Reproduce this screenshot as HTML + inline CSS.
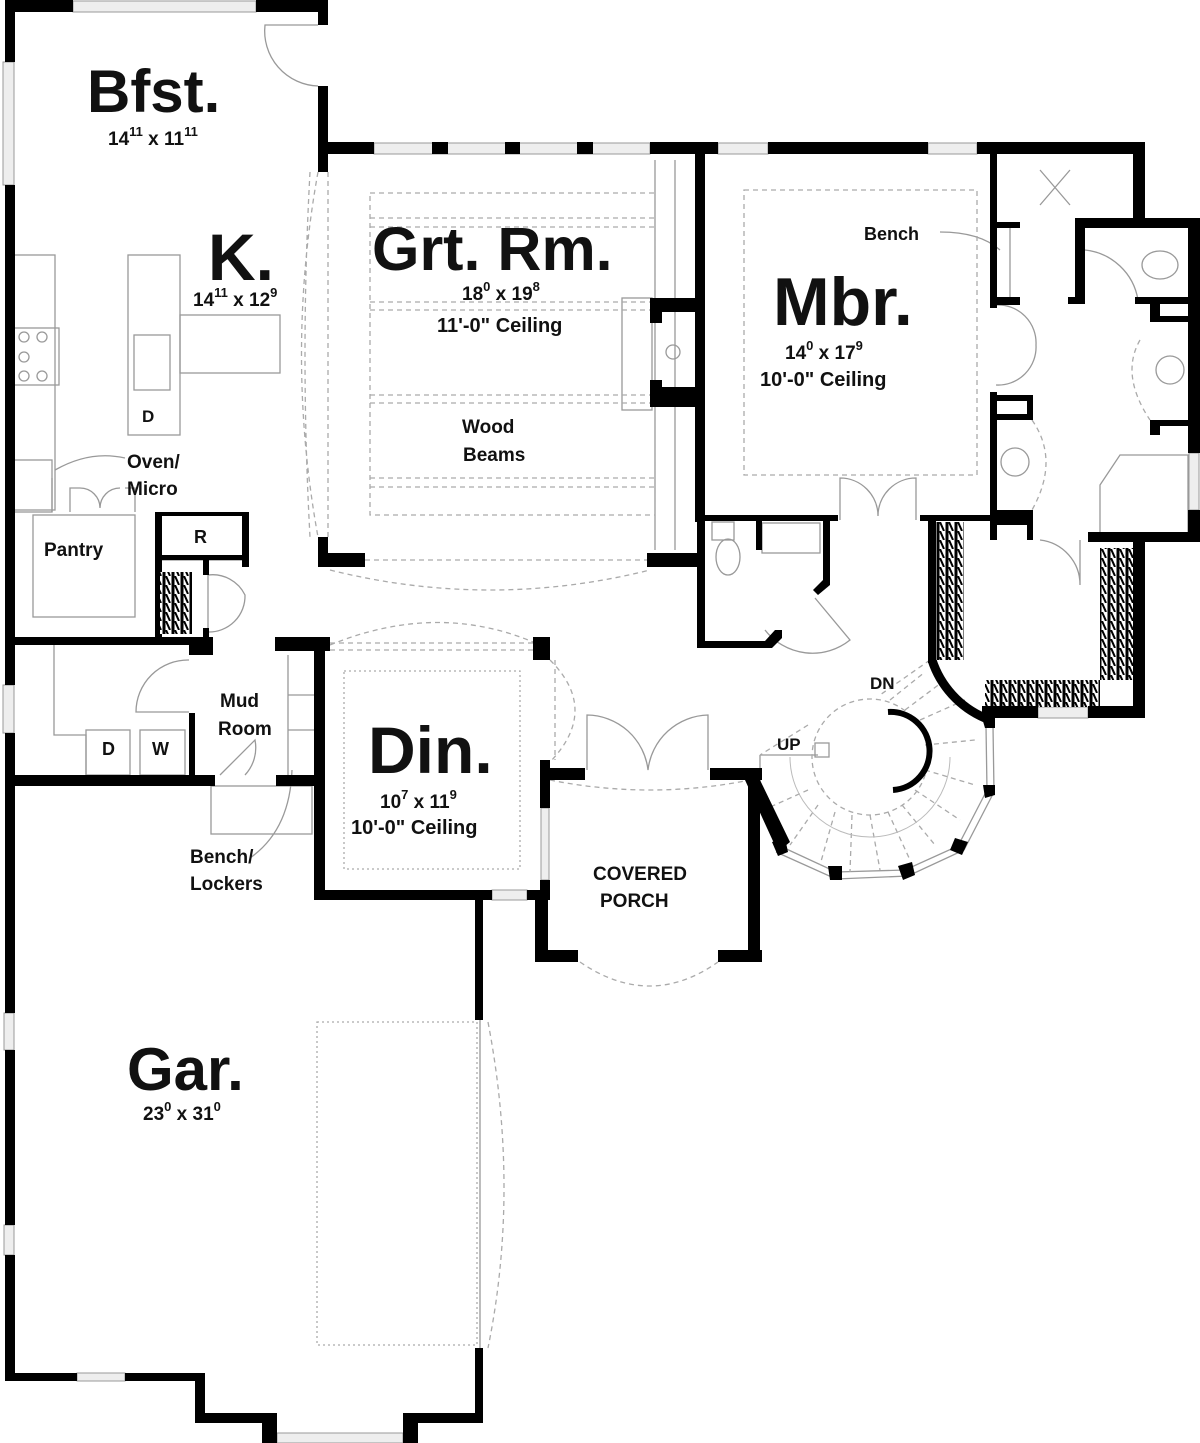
<!DOCTYPE html>
<html><head><meta charset="utf-8"><style>
html,body{margin:0;padding:0;background:#fff}
svg{display:block}
text{font-family:"Liberation Sans",Arial,sans-serif;font-weight:bold;fill:#111}
</style></head><body>
<svg width="1200" height="1443" viewBox="0 0 1200 1443" xmlns="http://www.w3.org/2000/svg">
<defs>
<pattern id="hat" width="9" height="9" patternUnits="userSpaceOnUse">
<rect width="9" height="9" fill="#fff"/>
<line x1="2" y1="0" x2="2" y2="9" stroke="#000" stroke-width="3"/>
<line x1="4" y1="0" x2="8" y2="9" stroke="#000" stroke-width="2"/>
</pattern>
</defs>

<g fill="none" stroke="#999" stroke-width="1.3">
<rect x="14" y="255" width="41" height="255"/>
<rect x="128" y="255" width="52" height="180"/>
<rect x="180" y="315" width="100" height="58"/>
<rect x="134" y="335" width="36" height="55"/>
<rect x="14" y="460" width="38" height="52"/>
<rect x="33" y="515" width="102" height="102"/>
<rect x="161" y="515" width="82" height="45"/>
<path d="M52 512 V478 M70 512 V488 H 80 M135 512 V488 H125"/>
<path d="M80 488 A20 20 0 0 1 100 508 A20 20 0 0 1 120 488"/>
<path d="M55 470 Q90 450 125 458"/>
<rect x="14" y="328" width="45" height="57"/>
<circle cx="24" cy="337" r="5"/><circle cx="24" cy="357" r="5"/><circle cx="24" cy="376" r="5"/>
<circle cx="42" cy="337" r="5"/><circle cx="42" cy="376" r="5"/>
<!-- laundry -->
<path d="M54 645 V735 H86 V775"/>
<rect x="86" y="730" width="44" height="45"/><rect x="140" y="730" width="45" height="45"/>
<path d="M189 660 A52 52 0 0 0 136 712 H189"/>
<!-- mud lockers -->
<path d="M288 655 V775 M318 655 V775 M288 695 H318 M288 730 H318"/>
<rect x="211" y="786" width="101" height="48"/>
<path d="M220 775 L255 740 A40 40 0 0 1 245 775"/>
<path d="M250 858 Q290 830 292 770"/>
<path d="M208 568 V632 A36 36 0 0 0 245 595 A36 36 0 0 0 208 575"/>
<path d="M318 25 H265 A55 55 0 0 0 318 86"/>
<rect x="622" y="298" width="30" height="112"/>
<path d="M655 160 V550 M675 160 V550"/>
<circle cx="673" cy="352" r="7"/>
<rect x="712" y="522" width="22" height="18"/><ellipse cx="728" cy="557" rx="12" ry="18"/>
<rect x="762" y="523" width="58" height="30"/>
<path d="M815 598 L850 640 A60 60 0 0 1 765 630"/>
<path d="M840 520 V478 A38 38 0 0 1 878 516 A38 38 0 0 1 916 478 V520"/>
<path d="M996 305 A38 38 0 0 1 1036 345 A38 38 0 0 1 996 385"/>
<path d="M1085 250 A60 60 0 0 1 1138 300"/>
<path d="M1080 540 V585 A45 45 0 0 0 1040 540"/>
<ellipse cx="1160" cy="265" rx="18" ry="14"/>
<circle cx="1170" cy="370" r="14"/><circle cx="1015" cy="462" r="14"/>
<path d="M1100 485 L1120 455 H1188 V535 H1100 Z"/>
<path d="M1040 170 L1070 205 M1070 170 L1040 205 M1010 228 V297"/>
<path d="M940 232 Q980 232 1000 250"/>
<path d="M587 770 V715 A62 62 0 0 1 648 770 A62 62 0 0 1 708 715 V770"/>
<path d="M760 755 H818 M760 755 V790"/>
<rect x="815" y="743" width="14" height="14"/>
<path d="M480 1020 V1348"/>
<!-- stair outer ring windows -->
<path d="M986 726 L987 790 L958 846 L905 870 L836 872 L780 846"/>
<path d="M993 726 L994 792 L964 850 L908 876 L836 879 L776 852"/>
</g>
<g fill="none" stroke="#aaa" stroke-width="1.3" stroke-dasharray="5 4">
<rect x="370" y="193" width="285" height="322"/>
<path d="M370 218H655M370 227H655M370 302H655M370 310H655M370 395H655M370 403H655M370 478H655M370 487H655"/>
<path d="M318 172 Q285 355 318 537 M328 172 V537 M310 172 Q300 355 310 537"/>
<path d="M365 560 H650 M330 570 Q490 610 650 570"/>
<path d="M330 643 H540 M330 650 H540 M330 645 Q440 600 540 645"/>
<path d="M550 660 Q600 710 550 762 M555 660 V760"/>
<rect x="344" y="671" width="176" height="198" stroke-dasharray="2 3"/>
<rect x="744" y="190" width="233" height="285"/>
<rect x="317" y="1022" width="160" height="323" stroke-dasharray="2 3"/>
<path d="M488 1022 Q520 1190 488 1348"/>
<path d="M550 780 Q650 800 750 780 M580 962 Q650 1010 718 962"/>
<path d="M1140 340 Q1120 375 1150 420 M1032 420 Q1060 460 1032 510"/>
<circle cx="870" cy="757" r="58"/>
<path d="M808 725 L760 755 M808 790 L768 808 M818 805 L790 845 M835 812 L820 865 M852 815 L850 872 M870 815 L880 870 M888 812 L910 860 M902 805 L935 845 M915 790 L960 820 M925 770 L975 785 M925 745 L975 740 M920 720 L965 700 M905 710 L945 680 M890 700 L925 672 M930 660 L880 695"/>
</g>
<path d="M870 757 m-80 0 a80 80 0 1 0 160 0" fill="none" stroke="#bbb" stroke-width="1"/>

<g fill="#eee" stroke="#999" stroke-width="1">
<rect x="73" y="1" width="183" height="11"/>
<rect x="3" y="62" width="11" height="123"/>
<rect x="3" y="685" width="11" height="48"/>
<rect x="374" y="143" width="276" height="11"/>
<rect x="718" y="143" width="50" height="11"/><rect x="928" y="143" width="49" height="11"/>
<rect x="1189" y="453" width="10" height="57"/>
<rect x="1038" y="707" width="50" height="11"/>
<rect x="492" y="890" width="35" height="10"/>
<rect x="541" y="808" width="8" height="72"/>
<rect x="77" y="1373" width="48" height="8"/>
<rect x="277" y="1433" width="126" height="10"/>
<rect x="4" y="1013" width="10" height="37"/><rect x="4" y="1225" width="10" height="30"/>
</g>

<g fill="#000">
<rect x="5" y="0" width="68" height="12"/><rect x="256" y="0" width="72" height="12"/>
<rect x="5" y="0" width="10" height="62"/>
<rect x="5" y="185" width="10" height="500"/>
<rect x="5" y="733" width="10" height="280"/>
<rect x="5" y="1050" width="10" height="175"/>
<rect x="5" y="1255" width="10" height="126"/>
<rect x="318" y="0" width="10" height="25"/>
<rect x="318" y="86" width="10" height="86"/>
<rect x="318" y="142" width="56" height="12"/>
<rect x="432" y="142" width="16" height="12"/><rect x="505" y="142" width="15" height="12"/><rect x="577" y="142" width="16" height="12"/>
<rect x="650" y="142" width="68" height="12"/>
<rect x="768" y="142" width="160" height="12"/>
<rect x="977" y="142" width="168" height="12"/>
<rect x="318" y="537" width="10" height="30"/><rect x="318" y="553" width="47" height="14"/>
<rect x="647" y="553" width="55" height="14"/>
<rect x="650" y="298" width="45" height="14"/><rect x="650" y="387" width="45" height="20"/>
<rect x="650" y="298" width="12" height="25"/><rect x="650" y="380" width="12" height="27"/>
<rect x="695" y="142" width="10" height="380"/>
<rect x="155" y="512" width="7" height="128"/>
<rect x="162" y="512" width="87" height="4"/>
<rect x="242" y="512" width="7" height="55"/>
<rect x="162" y="555" width="87" height="5"/>
<rect x="203" y="560" width="6" height="15"/><rect x="203" y="628" width="6" height="12"/>
<rect x="160" y="572" width="32" height="62" fill="url(#hat)"/>
<rect x="5" y="637" width="205" height="8"/>
<rect x="189" y="637" width="24" height="18"/>
<rect x="275" y="637" width="55" height="14"/>
<rect x="533" y="637" width="17" height="23"/>
<rect x="189" y="713" width="6" height="62"/>
<rect x="5" y="775" width="210" height="11"/>
<rect x="276" y="775" width="46" height="11"/>
<rect x="314" y="637" width="11" height="263"/>
<rect x="314" y="890" width="178" height="10"/>
<rect x="527" y="890" width="23" height="10"/>
<rect x="540" y="760" width="10" height="48"/>
<rect x="540" y="880" width="10" height="20"/>
<rect x="475" y="900" width="8" height="120"/>
<rect x="475" y="1348" width="8" height="75"/>
<rect x="5" y="1373" width="72" height="8"/><rect x="125" y="1373" width="80" height="8"/>
<rect x="195" y="1373" width="10" height="50"/>
<rect x="195" y="1413" width="80" height="10"/>
<rect x="262" y="1413" width="15" height="30"/>
<rect x="403" y="1413" width="15" height="30"/>
<rect x="410" y="1413" width="73" height="10"/>
<rect x="540" y="768" width="45" height="12"/>
<rect x="710" y="768" width="52" height="12"/>
<rect x="535" y="890" width="13" height="72"/>
<rect x="535" y="950" width="43" height="12"/>
<rect x="718" y="950" width="44" height="12"/>
<rect x="748" y="770" width="12" height="192"/>
<polygon points="745,780 760,780 790,842 778,852"/>
<rect x="697" y="515" width="141" height="6"/>
<rect x="920" y="515" width="75" height="6"/>
<rect x="697" y="515" width="8" height="133"/>
<polygon points="697,641 765,641 775,630 782,630 782,638 772,648 697,648"/>
<rect x="756" y="520" width="6" height="30"/>
<polygon points="823,518 830,518 830,585 818,595 813,590 823,580"/>
<rect x="928" y="515" width="8" height="148"/>
<path d="M932 660 A95 95 0 0 0 985 718" fill="none" stroke="#000" stroke-width="9"/>
<rect x="936" y="522" width="28" height="138" fill="url(#hat)"/>
<rect x="985" y="680" width="55" height="27" fill="url(#hat)"/>
<rect x="1040" y="680" width="60" height="27" fill="url(#hat)"/>
<rect x="1100" y="548" width="33" height="132" fill="url(#hat)"/>
<rect x="982" y="706" width="56" height="12"/>
<rect x="1088" y="706" width="57" height="12"/>
<rect x="1133" y="532" width="12" height="186"/>
<rect x="990" y="515" width="40" height="10"/>
<rect x="1088" y="532" width="112" height="10"/>
<path d="M888 712 A30 30 0 0 1 893 790" fill="none" stroke="#000" stroke-width="6"/>
<polygon points="982,718 995,718 995,728 985,728"/>
<polygon points="983,785 995,785 995,795 985,798"/>
<polygon points="955,838 968,842 962,855 950,850"/>
<polygon points="898,866 912,862 915,875 903,880"/>
<polygon points="828,866 842,866 842,880 830,880"/>
<polygon points="772,842 785,838 788,852 778,856"/>
<rect x="990" y="150" width="7" height="158"/>
<rect x="990" y="297" width="30" height="8"/>
<rect x="996" y="222" width="24" height="6"/>
<rect x="1068" y="297" width="17" height="7"/>
<rect x="1075" y="218" width="10" height="86"/>
<rect x="1133" y="142" width="12" height="80"/>
<rect x="1075" y="218" width="125" height="10"/>
<rect x="1188" y="218" width="12" height="235"/>
<rect x="1188" y="510" width="12" height="30"/>
<rect x="1135" y="297" width="55" height="7"/>
<rect x="1150" y="297" width="10" height="25"/><rect x="1150" y="316" width="40" height="6"/>
<rect x="1150" y="420" width="10" height="15"/><rect x="1150" y="420" width="40" height="6"/>
<rect x="990" y="392" width="7" height="148"/>
<rect x="990" y="395" width="42" height="6"/><rect x="1027" y="395" width="6" height="25"/><rect x="990" y="414" width="42" height="6"/>
<rect x="990" y="510" width="42" height="6"/><rect x="1027" y="510" width="6" height="30"/>
</g>

<text x="87" y="112" font-size="60">Bfst.</text>
<text x="108" y="145" font-size="19">14<tspan dy="-9" font-size="13">11</tspan><tspan dy="9"> x 11</tspan><tspan dy="-9" font-size="13">11</tspan></text>
<text x="208" y="280" font-size="66">K.</text>
<text x="193" y="306" font-size="19">14<tspan dy="-9" font-size="13">11</tspan><tspan dy="9"> x 12</tspan><tspan dy="-9" font-size="13">9</tspan></text>
<text x="372" y="270" font-size="61">Grt. Rm.</text>
<text x="462" y="300" font-size="19">18<tspan dy="-9" font-size="13">0</tspan><tspan dy="9"> x 19</tspan><tspan dy="-9" font-size="13">8</tspan></text>
<text x="437" y="332" font-size="20">11'-0" Ceiling</text>
<text x="462" y="433" font-size="19">Wood</text>
<text x="463" y="461" font-size="19">Beams</text>
<text x="773" y="325" font-size="68">Mbr.</text>
<text x="785" y="359" font-size="19">14<tspan dy="-9" font-size="13">0</tspan><tspan dy="9"> x 17</tspan><tspan dy="-9" font-size="13">9</tspan></text>
<text x="760" y="386" font-size="20">10'-0" Ceiling</text>
<text x="864" y="240" font-size="18">Bench</text>
<text x="127" y="468" font-size="19">Oven/</text>
<text x="127" y="495" font-size="19">Micro</text>
<text x="44" y="556" font-size="19">Pantry</text>
<text x="194" y="543" font-size="18">R</text>
<text x="142" y="422" font-size="17">D</text>
<text x="102" y="755" font-size="18">D</text>
<text x="152" y="755" font-size="18">W</text>
<text x="220" y="707" font-size="19">Mud</text>
<text x="218" y="735" font-size="19">Room</text>
<text x="190" y="863" font-size="19">Bench/</text>
<text x="190" y="890" font-size="19">Lockers</text>
<text x="368" y="773" font-size="66">Din.</text>
<text x="380" y="808" font-size="19">10<tspan dy="-9" font-size="13">7</tspan><tspan dy="9"> x 11</tspan><tspan dy="-9" font-size="13">9</tspan></text>
<text x="351" y="834" font-size="20">10'-0" Ceiling</text>
<text x="593" y="880" font-size="19">COVERED</text>
<text x="600" y="907" font-size="19">PORCH</text>
<text x="870" y="689" font-size="17">DN</text>
<text x="777" y="750" font-size="17">UP</text>
<text x="127" y="1090" font-size="60">Gar.</text>
<text x="143" y="1120" font-size="19">23<tspan dy="-9" font-size="13">0</tspan><tspan dy="9"> x 31</tspan><tspan dy="-9" font-size="13">0</tspan></text>
</svg>
</body></html>
